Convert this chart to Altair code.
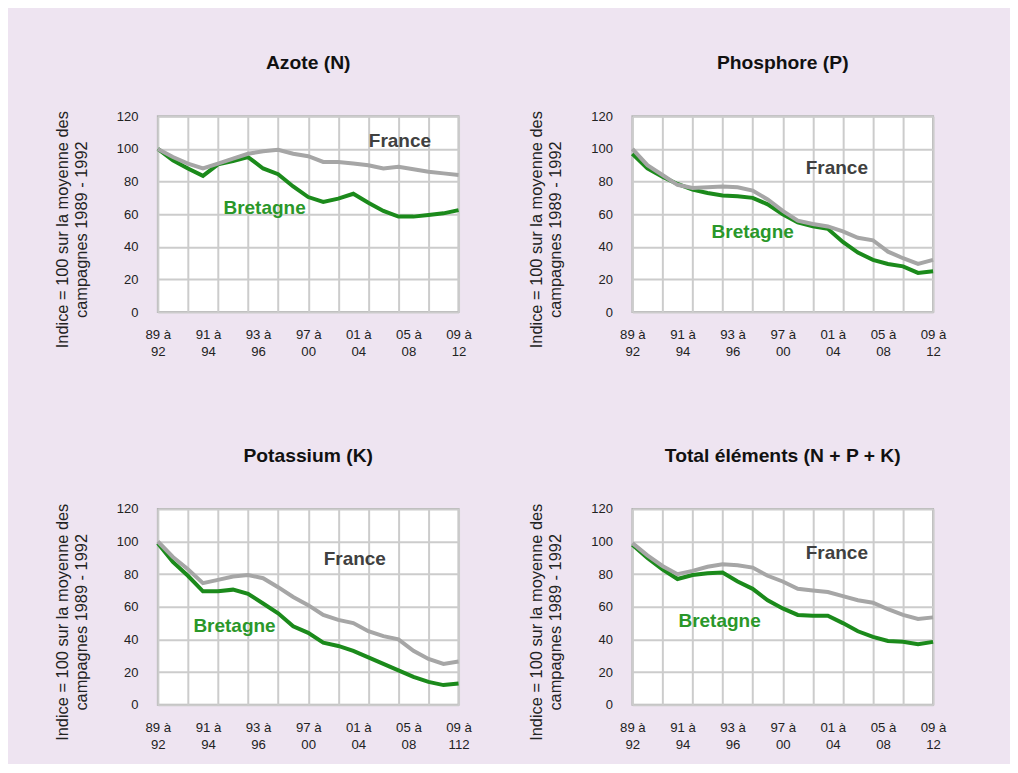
import altair as alt
import pandas as pd

# rolling campaign windows 89-92 ... 09-12 (21 points)
window_index = list(range(21))

x_labels = ["89 à|92", "91 à|94", "93 à|96", "97 à|00", "01 à|04", "05 à|08", "09 à|12"]
x_labels_k = ["89 à|92", "91 à|94", "93 à|96", "97 à|00", "01 à|04", "05 à|08", "09 à|112"]
y_ticks = [0, 20, 40, 60, 80, 100, 120]

azote_bretagne = [100, 93, 88, 83.5, 90.5, 92.5, 95, 88, 84.5, 77, 70.5, 67.5, 69.5, 72.5, 67, 62, 58.5, 58.5, 59.5, 60.5, 62.5]
azote_france = [100, 95, 91, 88, 91, 94, 97, 98.5, 99.5, 97, 95.5, 92, 92, 91, 90, 88, 89, 87.5, 86, 85, 84]

phos_bretagne = [97, 88, 83, 78.5, 75, 73, 71.5, 71, 70, 66, 60, 55, 52.5, 51, 43, 36.5, 32, 29.5, 28, 24, 25]
phos_france = [100, 90, 84, 78, 76, 76.5, 77, 76.5, 74.5, 69, 62, 56, 54, 52.5, 49.5, 45.5, 44, 37, 33, 29.5, 32]

pot_bretagne = [99, 87.5, 79, 69.5, 69.5, 70.5, 68, 62, 56, 48, 44, 38, 36, 33, 29, 25, 21, 17, 14, 12, 13]
pot_france = [100, 90.5, 83, 74.5, 76.5, 78.5, 79.5, 77.5, 72, 66, 61, 55, 52, 50, 45, 42, 40, 33, 28, 25, 26.5]

tot_bretagne = [98, 90, 83, 77, 79.5, 80.5, 81, 75.5, 71, 64, 59, 55, 54.5, 54.5, 50, 45, 41.5, 39, 38.5, 37, 38.5]
tot_france = [99, 91.5, 85, 80, 82, 84.5, 86, 85.5, 84, 79, 75.5, 71, 70, 69, 66.5, 64, 62.5, 58.5, 55, 52.5, 53.5]

# annotation anchors (data units: window index, index value)
ann_text = ["France", "Bretagne"]
ann_azote = ([16.1, 7.1], [105, 63.5])
ann_phos = ([13.6, 8.0], [88, 49])
ann_pot = ([13.1, 5.1], [89.5, 48])
ann_tot = ([13.6, 5.8], [93, 51])

GREEN = "#1b8a1b"
GREY = "#a6a6a6"
TEXT_GREEN = "#2a972a"
TEXT_GREY = "#404040"

n_grid = 10
grid_vals = [2 * k for k in range(n_grid + 1)]
label_vals = [k * 20 / 6 for k in range(7)]
tick_vals = sorted(set(grid_vals + label_vals))


def label_expr(labels):
    arr = "[" + ",".join("'" + s + "'" for s in labels) + "]"
    return ("abs(datum.value*0.3 - round(datum.value*0.3)) < 0.01 ? "
            "split(" + arr + "[round(datum.value*0.3)], '|') : ''")


def panel(title, bret, fra, labels, ann):
    df = pd.DataFrame({
        "i": window_index + window_index,
        "valeur": bret + fra,
        "serie": ["Bretagne"] * len(bret) + ["France"] * len(fra),
    })
    x_enc = alt.X(
        "i:Q",
        scale=alt.Scale(domain=[0, 20], nice=False, zero=False),
        axis=alt.Axis(
            values=tick_vals, tickCount=len(tick_vals) + 5,
            labelExpr=label_expr(labels), grid=True,
            gridOpacity={"condition": {"test": "datum.value % 2 == 0", "value": 1}, "value": 0},
            ticks=False, domain=False, labelPadding=16.5, labelFontSize=13.2,
            labelLineHeight=17, labelOverlap=False, labelFlush=False,
            labelAngle=0, labelBaseline="top", title=None,
        ),
    )
    y_enc = alt.Y(
        "valeur:Q",
        scale=alt.Scale(domain=[0, 120], nice=False),
        axis=alt.Axis(
            values=y_ticks, tickCount=len(y_ticks) + 5, labelOverlap=False,
            grid=True, ticks=False, domain=False,
            labelPadding=20, labelFontSize=13,
            title=["Indice = 100 sur la moyenne des", "campagnes 1989 - 1992"],
            titleFontSize=16.4, titleFontWeight="normal", titlePadding=27,
            titleLineHeight=19, titleY=113,
        ),
    )
    base = alt.Chart(df).encode(x=x_enc, y=y_enc)
    l_b = base.transform_filter(alt.datum.serie == "Bretagne").mark_line(color=GREEN, strokeWidth=4)
    l_f = base.transform_filter(alt.datum.serie == "France").mark_line(color=GREY, strokeWidth=4)

    adf = pd.DataFrame({"i": ann[0], "valeur": ann[1], "t": ann_text, "c": [TEXT_GREY, TEXT_GREEN]})
    txt = alt.Chart(adf).mark_text(fontSize=19, fontWeight="bold").encode(
        x=x_enc, y=y_enc, text="t:N",
        color=alt.Color("c:N", scale=None),
    )
    return alt.layer(l_b, l_f, txt).properties(
        width=301, height=196,
        title=alt.TitleParams(title, fontSize=19.3, fontWeight="bold", anchor="middle",
                              frame="group", offset=37, color="#111111"),
    )


p1 = panel("Azote (N)", azote_bretagne, azote_france, x_labels, ann_azote)
p2 = panel("Phosphore (P)", phos_bretagne, phos_france, x_labels, ann_phos)
p3 = panel("Potassium (K)", pot_bretagne, pot_france, x_labels_k, ann_pot)
p4 = panel("Total éléments (N + P + K)", tot_bretagne, tot_france, x_labels, ann_tot)

chart = alt.concat(
    p1, p2, p3, p4, columns=2, bounds="flush",
    spacing={"row": 197, "column": 174},
).properties(
    background="#eee4f1",
    padding={"left": 45, "top": 44, "right": 63, "bottom": 12},
).configure(
    font="Liberation Sans",
).configure_view(
    stroke="#b4b4b4", strokeWidth=2, fill="white",
).configure_axis(
    gridColor="#cccccc", gridWidth=2, labelColor="#222222", titleColor="#222222",
)

chart.save("out.html", embed_options={"renderer": "svg", "actions": False})
